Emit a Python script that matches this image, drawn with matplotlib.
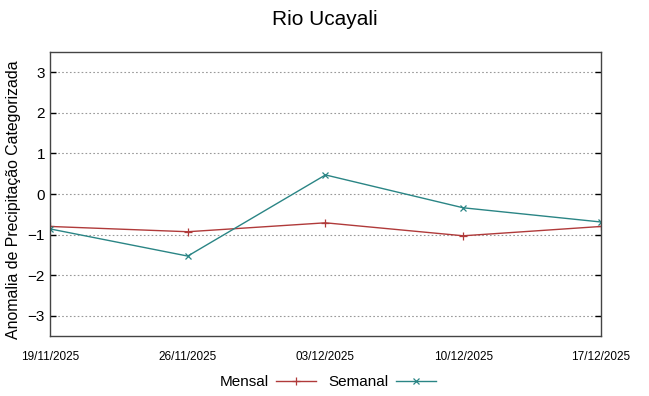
import matplotlib
matplotlib.use("Agg")
from matplotlib import pyplot as plt

plt.rcParams["font.family"] = ["Liberation Sans", "DejaVu Sans"]

dates = ["19/11/2025", "26/11/2025", "03/12/2025", "10/12/2025", "17/12/2025"]
mensal = [-0.80, -0.93, -0.71, -1.03, -0.80]
semanal = [-0.86, -1.53, 0.47, -0.34, -0.69]
yticks = [-3, -2, -1, 0, 1, 2, 3]

fig = plt.figure(figsize=(6.49, 3.96), dpi=100)
ax = fig.add_axes([0.077, 0.1515, 0.849, 0.7172])

x = list(range(len(dates)))
ax.plot(x, mensal, color="#b03a3a", lw=1.0, marker="+", ms=6, mew=0.9, label="Mensal")
ax.plot(x, semanal, color="#2a8585", lw=1.0, marker="x", ms=5, mew=0.9, label="Semanal")

ax.set_xlim(0, len(dates) - 1)
ax.set_ylim(-3.5, 3.5)
ax.set_xticks(x)
ax.set_xticklabels(dates, fontsize=8.5)
ax.set_yticks(yticks)
ax.tick_params(axis="y", labelsize=11, direction="in", right=True, length=4, width=1)
ax.tick_params(axis="x", direction="in", length=0, pad=11)
ax.yaxis.grid(True, linestyle=(0, (1.5, 2)), color="#999999", lw=0.8)
for s in ax.spines.values():
    s.set_color("#444444")
    s.set_linewidth(1)

ax.set_ylabel("Anomalia de Precipitação Categorizada", fontsize=11.4, labelpad=5,
              y=0.48)
fig.suptitle("Rio Ucayali", fontsize=15, y=0.975)

fig.legend(loc="center", bbox_to_anchor=(0.505, 0.035), ncol=2, frameon=False,
           markerfirst=False, fontsize=11, handlelength=2.6, columnspacing=0.8,
           handletextpad=0.5)

fig.savefig("out.png", dpi=100)
